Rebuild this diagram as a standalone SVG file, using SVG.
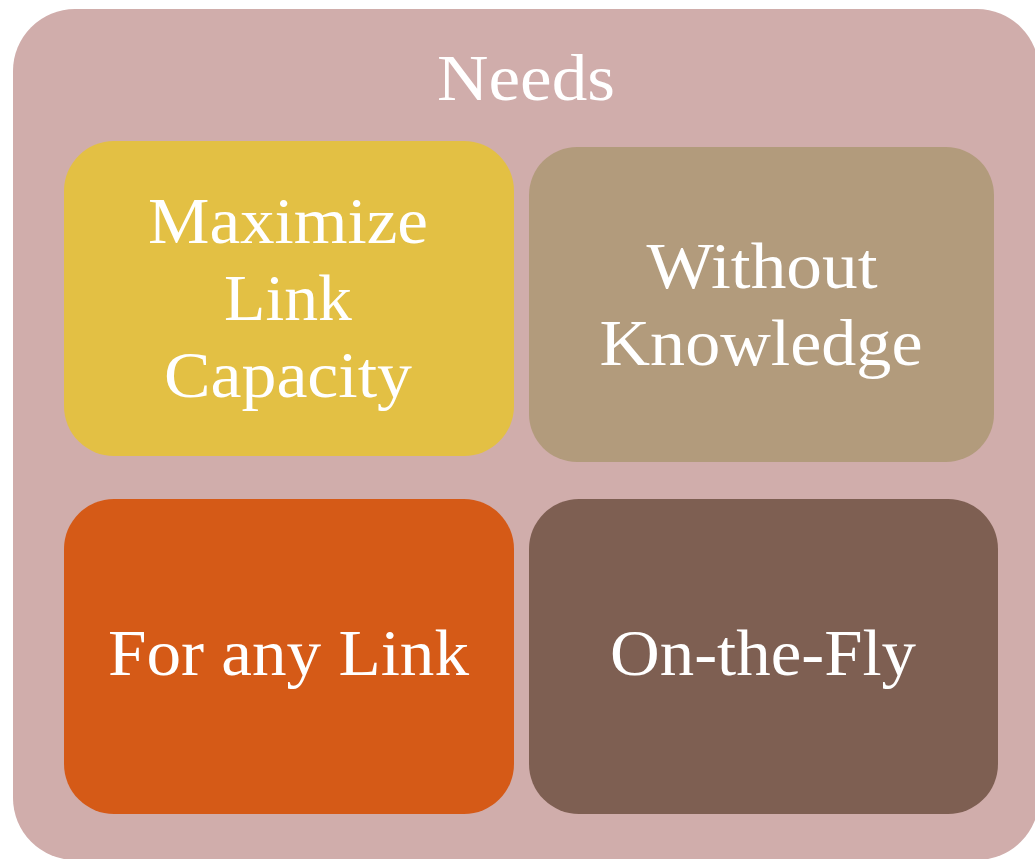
<svg xmlns="http://www.w3.org/2000/svg" width="1035" height="859" viewBox="0 0 1035 859">
<style>
.t{font-family:"Liberation Serif","Times New Roman",serif;fill:#ffffff;text-anchor:middle;font-size:66px}
</style>
<rect width="1035" height="859" fill="#ffffff"/>
<g id="needs">
<rect x="13" y="9" width="1026" height="851" rx="62" fill="#D0ADAB"/>
<text class="t" x="526" y="100" font-size="68" textLength="178" lengthAdjust="spacingAndGlyphs">Needs</text>
</g>
<g id="maximize">
<rect x="64" y="141" width="450" height="315" rx="50" fill="#E3C044"/>
<text class="t" x="288" y="243" textLength="280" lengthAdjust="spacingAndGlyphs">Maximize</text>
<text class="t" x="288" y="320" textLength="128" lengthAdjust="spacingAndGlyphs">Link</text>
<text class="t" x="288" y="397" textLength="248" lengthAdjust="spacingAndGlyphs">Capacity</text>
</g>
<g id="without">
<rect x="529" y="147" width="465" height="315" rx="48" fill="#B29B7C"/>
<text class="t" x="762" y="288" textLength="231" lengthAdjust="spacingAndGlyphs">Without</text>
<text class="t" x="761" y="365" textLength="323" lengthAdjust="spacingAndGlyphs">Knowledge</text>
</g>
<g id="anylink">
<rect x="64" y="499" width="450" height="315" rx="50" fill="#D55A17"/>
<text class="t" x="288.5" y="675" textLength="361" lengthAdjust="spacingAndGlyphs">For any Link</text>
</g>
<g id="onthefly">
<rect x="529" y="499" width="469" height="315" rx="50" fill="#7E5F52"/>
<text class="t" x="763" y="675" textLength="306" lengthAdjust="spacingAndGlyphs">On-the-Fly</text>
</g>
<g id="connectors"></g>
</svg>
